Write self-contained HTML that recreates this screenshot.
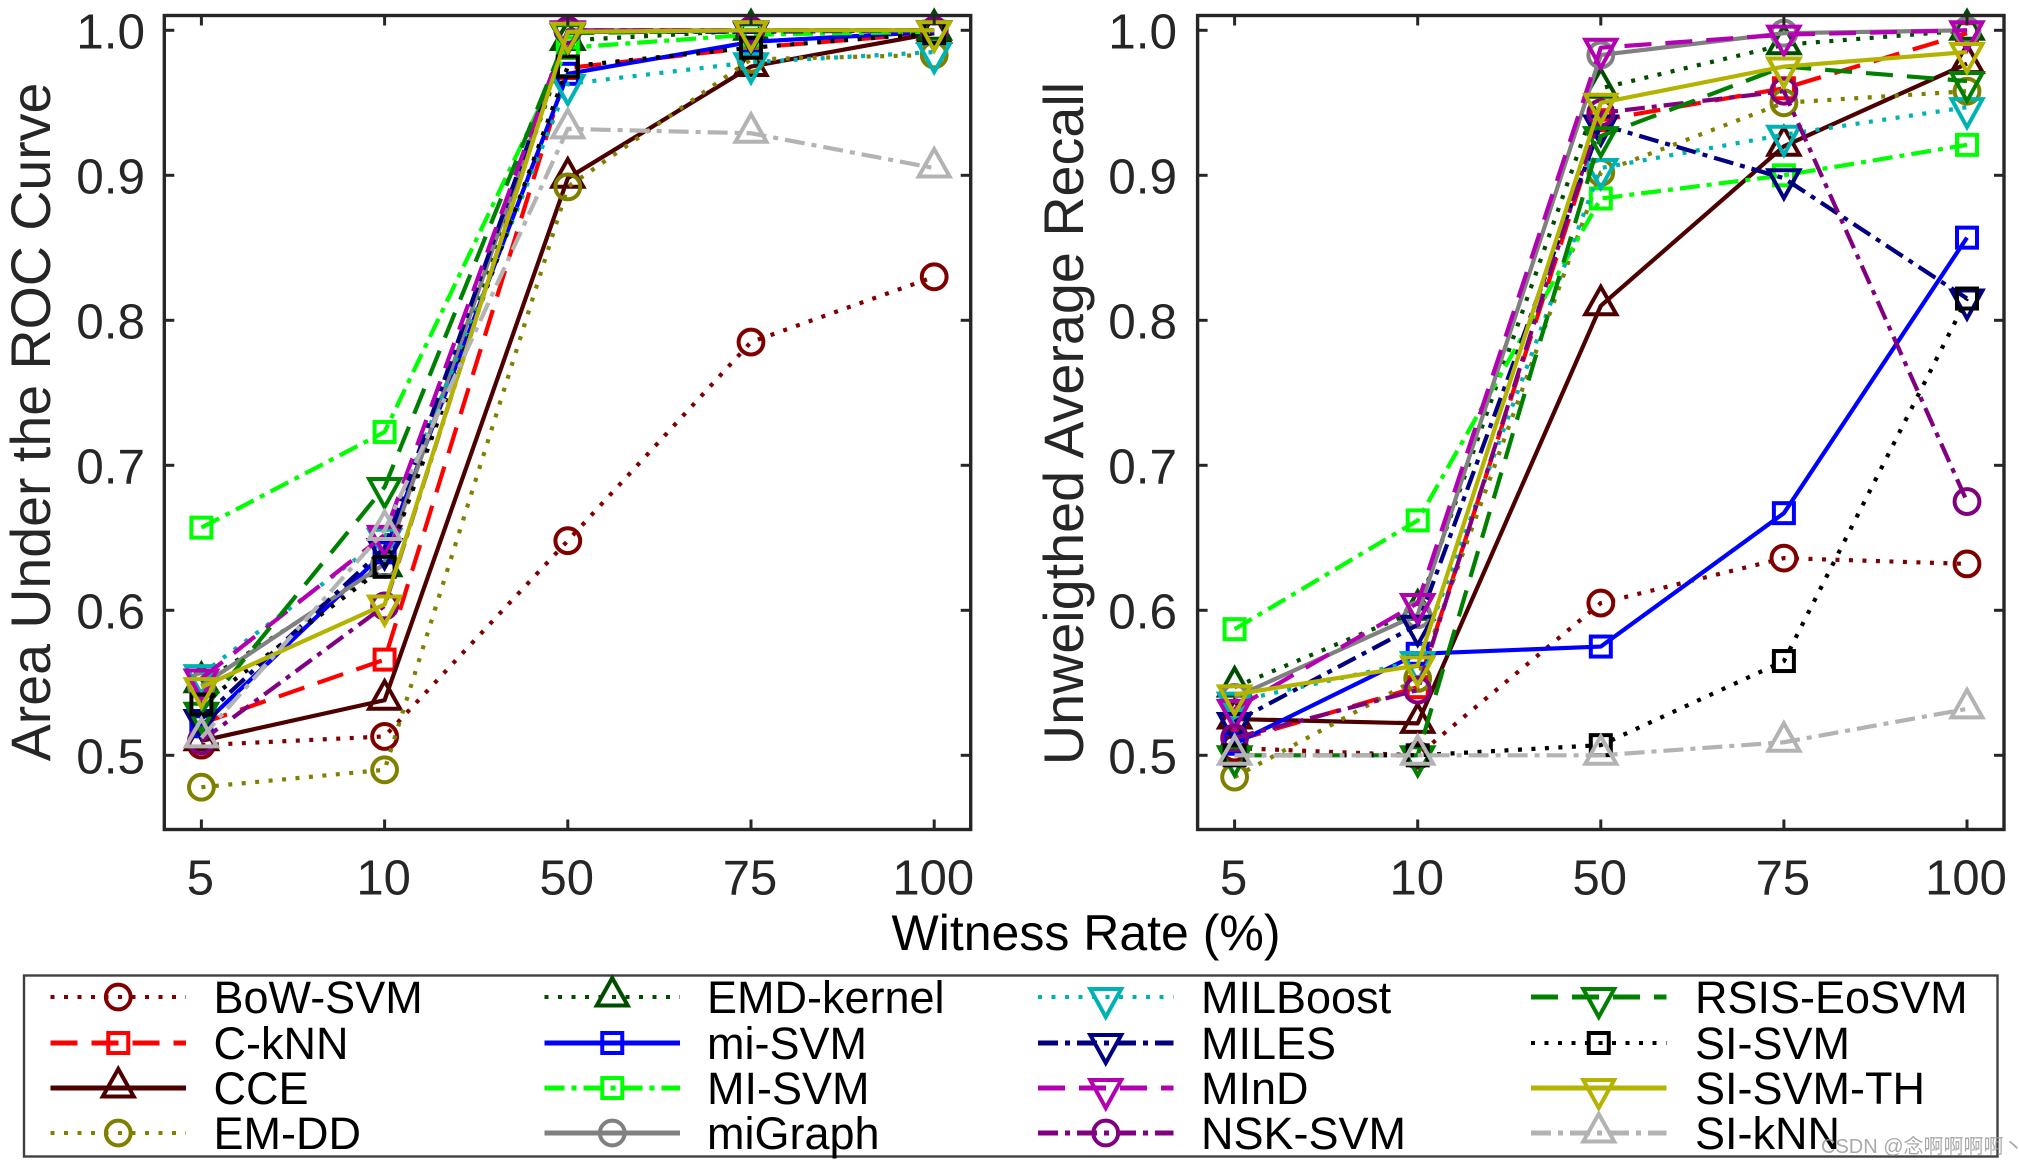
<!DOCTYPE html>
<html lang="en">
<head>
<meta charset="utf-8">
<title>Witness Rate Comparison</title>
<style>
html,body{margin:0;padding:0;background:#fff;}
svg{display:block;font-family:"Liberation Sans","Noto Sans CJK SC",sans-serif;}
</style>
</head>
<body>
<svg id="figure" xmlns="http://www.w3.org/2000/svg" width="2019" height="1165" viewBox="0 0 2019 1165">
  <rect x="0" y="0" width="2019" height="1165" fill="#ffffff"/>
  <g id="auc-chart"></g>
  <g id="uar-chart"></g>
  <text transform="translate(50,422) rotate(-90)" text-anchor="middle" font-size="55.5" fill="#262626">Area Under the ROC Curve</text>
  <text transform="translate(1083,423.5) rotate(-90)" text-anchor="middle" font-size="55.7" fill="#262626">Unweigthed Average Recall</text>
  <text x="1086" y="950" text-anchor="middle" font-size="50" fill="#000000">Witness Rate (%)</text>
  <g id="legend">
    <rect x="24" y="975.5" width="1973.5" height="181" fill="#ffffff" stroke="#404040" stroke-width="2.4"/>
  </g>
  <text x="1821" y="1153" font-size="20" fill="#9a9a9a" fill-opacity="0.85">CSDN @念啊啊啊啊丶</text>
</svg>
<script>
const categories = ["5", "10", "50", "75", "100"];
const yTickValues = [0.5, 0.6, 0.7, 0.8, 0.9, 1.0];
const yTickLabels = ["0.5", "0.6", "0.7", "0.8", "0.9", "1.0"];

const aucBowSvm = [0.507, 0.513, 0.648, 0.785, 0.830];
const aucCknn = [0.522, 0.566, 0.974, 0.988, 0.998];
const aucCce = [0.510, 0.538, 0.898, 0.975, 0.998];
const aucEmDd = [0.478, 0.490, 0.892, 0.980, 0.983];
const aucEmdKernel = [0.550, 0.630, 0.993, 1.000, 1.000];
const aucMiSvmLower = [0.520, 0.640, 0.970, 0.992, 0.999];
const aucMiSvmUpper = [0.657, 0.723, 0.988, 0.997, 0.999];
const aucMiGraph = [0.548, 0.632, 1.000, 1.000, 1.000];
const aucMilBoost = [0.556, 0.650, 0.963, 0.978, 0.985];
const aucMiles = [0.525, 0.643, 0.999, 0.999, 1.000];
const aucMind = [0.553, 0.652, 1.000, 1.000, 1.000];
const aucNskSvm = [0.510, 0.603, 1.000, 1.000, 1.000];
const aucRsis = [0.530, 0.685, 0.998, 1.000, 1.000];
const aucSiSvm = [0.535, 0.630, 0.975, 0.988, 0.998];
const aucSiSvmTh = [0.547, 0.604, 0.999, 1.000, 1.000];
const aucSiKnn = [0.512, 0.655, 0.932, 0.929, 0.905];

const uarBowSvm = [0.505, 0.500, 0.605, 0.636, 0.632];
const uarCknn = [0.510, 0.547, 0.938, 0.960, 0.998];
const uarCce = [0.525, 0.522, 0.810, 0.920, 0.977];
const uarEmDd = [0.485, 0.553, 0.902, 0.950, 0.958];
const uarEmdKernel = [0.547, 0.600, 0.960, 0.990, 1.000];
const uarMiSvmLower = [0.508, 0.570, 0.575, 0.667, 0.857];
const uarMiSvmUpper = [0.587, 0.662, 0.884, 0.900, 0.921];
const uarMiGraph = [0.540, 0.597, 0.983, 0.998, 1.000];
const uarMilBoost = [0.537, 0.565, 0.905, 0.928, 0.947];
const uarMiles = [0.523, 0.590, 0.935, 0.898, 0.815];
const uarMind = [0.532, 0.605, 0.988, 0.997, 1.000];
const uarNskSvm = [0.512, 0.545, 0.943, 0.958, 0.675];
const uarRsis = [0.500, 0.500, 0.927, 0.975, 0.965];
const uarSiSvm = [0.500, 0.500, 0.507, 0.565, 0.815];
const uarSiSvmTh = [0.542, 0.562, 0.950, 0.975, 0.985];
const uarSiKnn = [0.500, 0.500, 0.500, 0.509, 0.532];

const seriesNames = ["BoW-SVM","C-kNN","CCE","EM-DD","EMD-kernel","mi-SVM","MI-SVM","miGraph","MILBoost","MILES","MInD","NSK-SVM","RSIS-EoSVM","SI-SVM","SI-SVM-TH","SI-kNN"];
const aucSeries = [aucBowSvm,aucCknn,aucCce,aucEmDd,aucEmdKernel,aucMiSvmLower,aucMiSvmUpper,aucMiGraph,aucMilBoost,aucMiles,aucMind,aucNskSvm,aucRsis,aucSiSvm,aucSiSvmTh,aucSiKnn];
const uarSeries = [uarBowSvm,uarCknn,uarCce,uarEmDd,uarEmdKernel,uarMiSvmLower,uarMiSvmUpper,uarMiGraph,uarMilBoost,uarMiles,uarMind,uarNskSvm,uarRsis,uarSiSvm,uarSiSvmTh,uarSiKnn];

const seriesColors = ["#800000","#ff0000","#4d0000","#808000","#004d00","#0000ff","#00ff00","#808080","#00b3b3","#000080","#b300b3","#800080","#008000","#000000","#b3b300","#b3b3b3"];
const seriesLineTypes = ["dot","dash","solid","dot","dot","solid","dashdot","solid","dot","dashdot","dash","dashdot","dash","dot","solid","dashdot"];
const seriesMarkers = ["circle","square","up","circle","up","square","square","circle","down","down","down","circle","down","square","down","up"];

const SVG_NS = "http://www.w3.org/2000/svg";
const dashPatterns = {solid: "", dot: "4 9.5", dash: "27 14", dashdot: "20 7 5 7"};
const INK = "#262626";

function make(tag, attrs, parent) {
  const el = document.createElementNS(SVG_NS, tag);
  for (const k in attrs) el.setAttribute(k, attrs[k]);
  parent.appendChild(el);
  return el;
}

function slug(s) {
  return s.toLowerCase().replace(/[^a-z0-9]+/g, "-");
}

function drawMarker(kind, x, y, color, parent, label) {
  const style = {fill: "none", stroke: color, "stroke-width": 4};
  let m;
  if (kind === "circle") {
    m = make("circle", Object.assign({cx: x, cy: y, r: 12.4}, style), parent);
  } else if (kind === "square") {
    m = make("rect", Object.assign({x: x - 10, y: y - 10, width: 20, height: 20}, style), parent);
  } else if (kind === "up") {
    const pts = (x - 15.5) + "," + (y + 8.5) + " " + (x + 15.5) + "," + (y + 8.5) + " " + x + "," + (y - 19);
    m = make("polygon", Object.assign({points: pts, "stroke-linejoin": "miter"}, style), parent);
  } else {
    const pts = (x - 15.5) + "," + (y - 8) + " " + (x + 15.5) + "," + (y - 8) + " " + x + "," + (y + 20);
    m = make("polygon", Object.assign({points: pts, "stroke-linejoin": "miter"}, style), parent);
  }
  
  
  return m;
}

function drawChart(host, prefix, left, right, tick0, tickStep, labelRight, series) {
  const top = 15.5, bottom = 829.5;
  const xScale = function (i) { return tick0 + i * tickStep; };
  const yScale = function (v) { return 30.3 + (1 - v) * 1450; };

  const seriesLayer = make("g", {}, host);
  
  

  series.forEach(function (values, s) {
    const g = make("g", {}, seriesLayer);
    
    
    const pts = values.map(function (v, i) { return xScale(i) + "," + yScale(v); }).join(" ");
    const line = make("polyline", {points: pts, fill: "none", stroke: seriesColors[s], "stroke-width": 4.2, "stroke-dasharray": dashPatterns[seriesLineTypes[s]], "stroke-linejoin": "round"}, g);
    
    
    values.forEach(function (v, i) {
      drawMarker(seriesMarkers[s], xScale(i), yScale(v), seriesColors[s], g, prefix + '-point-' + slug(seriesNames[s]));
    });
  });

  const frame = make("rect", {x: left, y: top, width: right - left, height: bottom - top, fill: "none", stroke: INK, "stroke-width": 3.4}, host);
  
  

  categories.forEach(function (c, i) {
    const x = xScale(i);
    const t1 = make("line", {x1: x, x2: x, y1: bottom, y2: bottom - 10, stroke: INK, "stroke-width": 3}, host);
    
    
    const t2 = make("line", {x1: x, x2: x, y1: top, y2: top + 10, stroke: INK, "stroke-width": 3}, host);
    
    
    const lab = make("text", {x: x - 1, y: 894.5, "text-anchor": "middle", "font-size": 49, fill: INK}, host);
    lab.textContent = c;
    
    
  });

  yTickValues.forEach(function (v, i) {
    const y = yScale(v);
    const t1 = make("line", {x1: left, x2: left + 10, y1: y, y2: y, stroke: INK, "stroke-width": 3}, host);
    
    
    const t2 = make("line", {x1: right, x2: right - 10, y1: y, y2: y, stroke: INK, "stroke-width": 3}, host);
    
    
    const lab = make("text", {x: labelRight, y: y + 18, "text-anchor": "end", "font-size": 49.5, fill: INK}, host);
    lab.textContent = yTickLabels[i];
    
    
  });
}

function drawLegend() {
  const host = document.getElementById("legend");
  const colLineStart = [50.5, 544.5, 1038, 1531];
  const colTextX = [213.5, 707, 1201, 1695];
  const rowLineY = [997, 1043, 1088, 1133];
  const lineLength = 135.5;
  seriesNames.forEach(function (name, s) {
    const col = Math.floor(s / 4), row = s % 4;
    const g = make("g", {}, host);
    
    
    const x0 = colLineStart[col], y = rowLineY[row];
    const l = make("line", {x1: x0, x2: x0 + lineLength, y1: y, y2: y, stroke: seriesColors[s], "stroke-width": seriesLineTypes[s] === "dot" ? 4 : 5, "stroke-dasharray": dashPatterns[seriesLineTypes[s]]}, g);
    
    
    drawMarker(seriesMarkers[s], x0 + lineLength / 2, y, seriesColors[s], g, 'legend-marker-' + slug(name));
    const t = make("text", {x: colTextX[col], y: y + 16, "font-size": 45, fill: "#000000"}, g);
    t.textContent = name;
    
    
  });
}

drawChart(document.getElementById("auc-chart"), "auc", 164.3, 970.7, 201.4, 183.2, 145, aucSeries);
drawChart(document.getElementById("uar-chart"), "uar", 1197.6, 2004, 1234.6, 183.1, 1177, uarSeries);
drawLegend();
</script>
</body>
</html>
